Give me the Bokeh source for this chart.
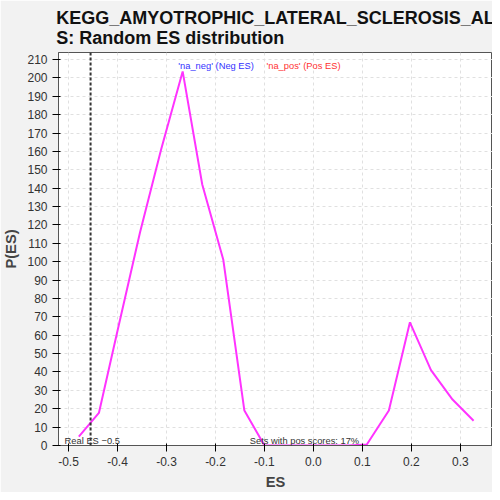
from bokeh.plotting import figure
from bokeh.models import Range1d, FixedTicker, Span, Label
from bokeh.embed import file_html
from bokeh.resources import INLINE

es = [-0.479, -0.438, -0.397, -0.354, -0.311, -0.267, -0.227, -0.184, -0.141, -0.100,
      -0.057, -0.014, 0.029, 0.072, 0.109, 0.154, 0.197, 0.240, 0.284, 0.327]
p_es = [4.8, 17.7, 66, 116, 161, 203.5, 142, 101, 19, 0,
        0, 0, 0, 0, 0.5, 19, 67, 41, 25, 13.5]
real_es = -0.455
x_ticks = [-0.5, -0.4, -0.3, -0.2, -0.1, 0.0, 0.1, 0.2, 0.3]
y_ticks = list(range(0, 220, 10))

p = figure(width=492, height=492, output_backend="svg", toolbar_location=None, tools="",
           x_axis_label="ES", y_axis_label="P(ES)",
           x_range=Range1d(-0.5205, 0.3656), y_range=Range1d(0, 213.8),
           background_fill_color="white", border_fill_color="#f2f2f2",
           min_border_left=52, min_border_right=0, min_border_top=47, min_border_bottom=47)
p.title.text = "KEGG_AMYOTROPHIC_LATERAL_SCLEROSIS_AL\nS: Random ES distribution"
p.title.align = "center"
p.title.text_font_size = "13.5pt"
p.title.text_font = "Liberation Sans"
p.title.text_color = "#111111"
p.outline_line_color = "#555555"
p.xaxis.ticker = FixedTicker(ticks=x_ticks)
p.yaxis.ticker = FixedTicker(ticks=y_ticks)
p.xaxis.major_label_overrides = {t: "%.1f" % t for t in x_ticks}
for ax in (p.xaxis, p.yaxis):
    ax.axis_label_text_font_size = "11pt"
    ax.axis_label_text_font_style = "bold"
    ax.axis_label_text_color = "#444444"
    ax.major_label_text_font_size = "9pt"
    ax.major_label_text_color = "#333333"
    ax.minor_tick_line_color = None
    ax.axis_line_color = "#555555"
p.grid.grid_line_color = "#e0e0e0"
p.grid.grid_line_dash = "3 3"

p.line(es, p_es, line_color="#ff33ff", line_width=2)
p.add_layout(Span(location=real_es, dimension="height", line_color="#333333",
                  line_dash="3 2", line_width=2))
p.add_layout(Label(x=-0.508, y=0, text="Real ES \u22120.5", text_font_size="7pt", text_color="#333333"))
p.add_layout(Label(x=-0.13, y=0, text="Sets with pos scores: 17%", text_font_size="7pt", text_color="#333333"))
p.add_layout(Label(x=-0.276, y=204, text="'na_neg' (Neg ES)", text_font_size="7pt", text_color="#3333ff"))
p.add_layout(Label(x=-0.096, y=204, text="'na_pos' (Pos ES)", text_font_size="7pt", text_color="#ff3333"))

open("out.html", "w").write(file_html(p, INLINE))
